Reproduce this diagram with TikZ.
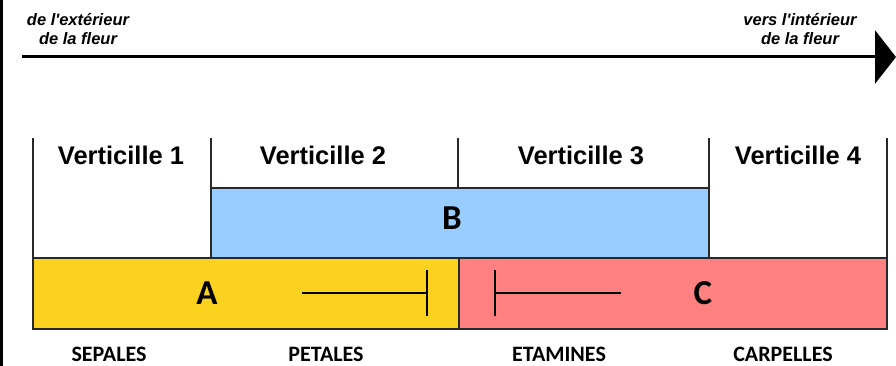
\documentclass[tikz,border=0pt]{standalone}
\usepackage{fontspec}
\usetikzlibrary{arrows.meta}
\newfontfamily\arialfont{Liberation Sans}
\newfontfamily\calfont{Carlito}
\definecolor{geneA}{RGB}{252,210,32}
\definecolor{geneB}{RGB}{153,204,255}
\definecolor{geneC}{RGB}{255,128,128}
\definecolor{edge}{RGB}{40,40,40}
\tikzset{
  dirtext/.style={font=\arialfont\bfseries\itshape\fontsize{16.5}{19}\selectfont, align=center, inner sep=0pt},
  whorl/.style={font=\arialfont\bfseries\fontsize{25.5}{30}\selectfont, inner sep=0pt},
  genebox/.style={draw=edge, line width=1.3pt, inner sep=0pt, outer sep=0pt, anchor=north west},
  genename/.style={font=\calfont\bfseries\fontsize{35}{40}\selectfont, inner sep=0pt},
  organ/.style={font=\calfont\bfseries\fontsize{22}{26}\selectfont, inner sep=0pt, text depth=0pt, anchor=base},
  rule/.style={draw=edge, line width=1.3pt},
  inhib/.style={line width=2.3pt, -{Bar[width=46pt, line width=2.3pt]}},
}
\begin{document}
\begin{tikzpicture}[x=1pt, y=-1pt]
  \useasboundingbox (0,0) rectangle (896,366);
  % left frame edge
  \draw[line width=2.2pt] (1.5,0) -- (1.5,366);

  % direction axis
  \coordinate (axisL) at (22,57);
  \coordinate (axisR) at (896,57);
  \draw[line width=3pt, -{Triangle[length=21pt, width=53pt]}] (axisL) -- (axisR);
  \node[dirtext] (outer) at (78,29) {de l'extérieur\\de la fleur};
  \node[dirtext] (inner) at (800,29) {vers l'intérieur\\de la fleur};

  % whorl frame
  \draw[rule] (33,138) -- (33,258);
  \draw[rule] (887,138) -- (887,258);
  \draw[rule] (211,138) -- (211,188);
  \draw[rule] (458,138) -- (458,188);
  \draw[rule] (709,138) -- (709,188);
  \node[whorl] (w1) at (121,155) {Verticille 1};
  \node[whorl] (w2) at (323,155) {Verticille 2};
  \node[whorl] (w3) at (581,155) {Verticille 3};
  \node[whorl] (w4) at (798,155) {Verticille 4};

  % gene activity domains
  \node[genebox, fill=geneB, minimum width=498pt, minimum height=70pt] (boxB) at (211,188) {};
  \node[genebox, fill=geneA, minimum width=426pt, minimum height=71pt] (boxA) at (33,258) {};
  \node[genebox, fill=geneC, minimum width=428pt, minimum height=71pt] (boxC) at (459,258) {};
  \node[genename] (labB) at (452,218) {B};
  \node[genename] (labA) at (207,293) {A};
  \node[genename] (labC) at (703,293) {C};

  % mutual repression of A and C
  \coordinate (aFrom) at (302,293);
  \coordinate (aTo) at (428,293);
  \coordinate (cFrom) at (621,293);
  \coordinate (cTo) at (494,293);
  \draw[inhib] (aFrom) -- (aTo);
  \draw[inhib] (cFrom) -- (cTo);

  % floral organs
  \node[organ] (sep) at (109,361) {SEPALES};
  \node[organ] (pet) at (326,361) {PETALES};
  \node[organ] (eta) at (559,361) {ETAMINES};
  \node[organ] (car) at (783,361) {CARPELLES};
\end{tikzpicture}
\end{document}
